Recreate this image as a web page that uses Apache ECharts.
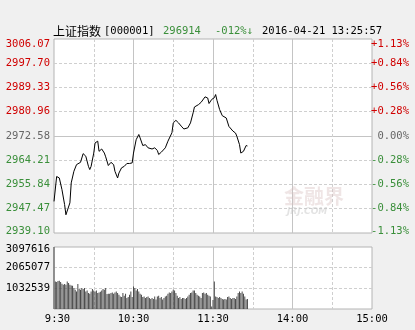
<!DOCTYPE html>
<html><head><meta charset="utf-8">
<script src="https://cdn.jsdelivr.net/npm/echarts@6/dist/echarts.min.js"></script>
<style>html,body{margin:0;padding:0;background:#f0f0f0}#c{width:415px;height:330px}</style>
</head><body><div id="c"></div><script>
// ---- data ----
const priceTimes = ["09:30","09:32","09:34","09:36","09:38","09:39","09:40","09:42","09:43","09:45","09:47","09:50","09:52","09:54","09:56","09:57","09:58",
"10:00","10:01","10:03","10:04","10:06","10:08","10:09","10:11","10:13","10:15","10:16","10:18","10:19","10:21","10:23","10:25","10:27","10:29",
"10:30","10:32","10:34","10:35","10:37","10:39","10:41","10:44","10:46","10:48","10:49","10:51","10:54","10:56","10:59",
"11:00","11:02","11:04","11:06","11:08","11:11","11:13","11:15","11:16","11:19","11:21","11:24","11:26","11:27","11:29","11:30",
"13:01","13:02","13:03","13:05","13:07","13:10","13:12","13:15","13:17","13:18","13:20","13:21","13:22","13:23","13:25","13:26"];
const prices = [2950.0,2958.6,2958.1,2954.1,2948.9,2945.4,2945.4,2949.5,2956.4,2960.4,2962.7,2963.5,2966.5,2965.6,2962.1,2961.0,2962.1,
2966.7,2970.2,2970.8,2967.3,2968.1,2966.7,2965.4,2962.4,2963.5,2962.7,2960.4,2958.1,2959.8,2961.6,2962.1,2963.1,2963.1,2963.3,
2966.7,2971.3,2973.1,2971.9,2969.3,2969.6,2968.5,2968.1,2968.5,2967.6,2966.2,2967.0,2968.5,2970.8,2973.7,
2977.1,2978.0,2977.1,2976.0,2975.0,2975.4,2977.1,2980.6,2982.6,2983.4,2984.2,2986.1,2985.7,2983.8,2985.2,2985.6,
2985.8,2986.9,2984.9,2981.7,2979.6,2978.8,2975.9,2974.3,2973.6,2972.5,2969.6,2966.7,2966.2,2967.3,2969.3,2969.14];
// volume per minute from 09:30 (one value per trading minute)
const volumes = [3097616,1380000,1350000,1400000,1410000,1350000,1260000,1210000,1250000,1210000,1380000,1300000,1210000,1180000,1160000,1050000,960000,880000,1250000,1000000,
960000,1050000,1000000,1050000,880000,930000,800000,760000,880000,1000000,930000,880000,930000,800000,830000,860000,930000,1000000,960000,1050000,
750000,760000,760000,800000,830000,760000,830000,880000,800000,710000,630000,600000,800000,660000,760000,550000,600000,710000,880000,600000,
1130000,1050000,930000,1000000,880000,760000,710000,600000,630000,550000,600000,630000,550000,500000,550000,500000,630000,470000,630000,660000,
550000,600000,470000,550000,630000,660000,760000,830000,800000,880000,960000,930000,800000,660000,550000,600000,500000,550000,550000,500000,
550000,630000,710000,800000,830000,930000,930000,800000,710000,660000,630000,550000,800000,830000,760000,800000,710000,660000,630000,130000,
450000,1380000,630000,600000,550000,600000,550000,500000,470000,500000,470000,600000,630000,550000,500000,550000,550000,500000,630000,800000,
880000,800000,880000,760000,630000,470000,500000];
const preClose = 2972.58;
const priceTickLabels = ["2939.10","2947.47","2955.84","2964.21","2972.58","2980.96","2989.33","2997.70","3006.07"];
const pctTickLabels = ["-1.13%","-0.84%","-0.56%","-0.28%","0.00%","+0.28%","+0.56%","+0.84%","+1.13%"];
const volTickLabels = ["","1032539","2065077","3097616"];
const timeTickLabels = ["9:30","10:30","11:30","14:00","15:00"];
const titleName = "上证指数";
const titleCode = "[000001]";
const lastPrice = "296914";
const lastChange = "-012%↓";
const stamp = "2016-04-21 13:25:57";

// ---- helpers ----
const pMin = 2939.10, pMax = 3006.07, pInt = (pMax - pMin) / 8;
const vMax = 3097616, vInt = vMax / 3;
function toIdx(t){const [h,m]=t.split(':').map(Number);const mm=h*60+m;return mm<=690?mm-570:mm-780+120;}
const MONO = '"DejaVu Sans Mono", monospace';
const RED = '#d00000', GREEN = '#3a8f3a', GRAY = '#666';
function colorFor(v){ if (Math.abs(v-preClose) < 0.01) return GRAY; return v > preClose ? RED : GREEN; }
const dashed = {show:true, showMinLine:false, showMaxLine:false, lineStyle:{color:'#cfcfcf', type:[3,2], width:1}};
const solid = {show:true, showMinLine:false, showMaxLine:false, lineStyle:{color:'#c4c4c4', type:'solid', width:1}};
const noAx = {axisLine:{show:false}, axisTick:{show:false}};
function edgeLabel(list, i, last){
  if (i === last) return '{top|' + list[i] + '}';
  if (i === 0) return '{bot|' + list[i] + '}';
  return list[i];
}
function richFor(colorFn){
  return {
    top:{padding:[11,0,0,0], fontFamily:MONO, fontSize:10.5, color:colorFn(pMax)},
    bot:{padding:[0,0,4,0], fontFamily:MONO, fontSize:10.5, color:colorFn(pMin)}
  };
}

const chart = echarts.init(document.getElementById('c'), null, {renderer:'canvas'});
chart.setOption({
  animation:false,
  backgroundColor:'#f0f0f0',
  grid:[
    {left:54, top:39, width:318, height:194, show:true, backgroundColor:'#fff', borderColor:'#b4b4b4', borderWidth:1},
    {left:54, top:247, width:318, height:62, show:true, backgroundColor:'#fff', borderColor:'#b4b4b4', borderWidth:1}
  ],
  xAxis:[
    Object.assign({gridIndex:0, type:'value', min:0, max:240, interval:30, axisLabel:{show:false}, splitLine:dashed}, noAx),
    Object.assign({gridIndex:0, type:'value', min:0, max:240, interval:60, axisLabel:{show:false}, splitLine:solid, position:'top'}, noAx),
    Object.assign({gridIndex:1, type:'value', min:0, max:240, interval:30, axisLabel:{show:false}, splitLine:dashed, position:'top'}, noAx),
    Object.assign({gridIndex:1, type:'value', min:0, max:240, interval:60, position:'bottom', splitLine:solid,
      axisLabel:{show:true, margin:5, color:'#000', fontFamily:MONO, fontSize:10.5,
        formatter:(v)=>{const i=Math.round(v/60);return i===0?'{a|'+timeTickLabels[i]+'}':timeTickLabels[i];},
        rich:{a:{padding:[0,0,0,7], fontFamily:MONO, fontSize:10.5, color:'#000'}}}}, noAx)
  ],
  yAxis:[
    Object.assign({gridIndex:0, type:'value', min:pMin, max:pMax, interval:pInt, position:'left', splitLine:dashed,
      axisLabel:{margin:4, fontFamily:MONO, fontSize:10.5,
        formatter:(v)=>edgeLabel(priceTickLabels, Math.round((v-pMin)/pInt), 8),
        color:(v)=>colorFor(v), rich:richFor(colorFor)}}, noAx),
    Object.assign({gridIndex:0, type:'value', min:pMin, max:pMax, interval:pInt, position:'right', splitLine:{show:false},
      axisLabel:{margin:37, align:'right', fontFamily:MONO, fontSize:10.5,
        formatter:(v)=>edgeLabel(pctTickLabels, Math.round((v-pMin)/pInt), 8),
        color:(v)=>colorFor(v), rich:richFor(colorFor)}}, noAx),
    Object.assign({gridIndex:0, type:'value', min:pMin, max:pMax, interval:pInt*4, position:'left', splitLine:solid, axisLabel:{show:false}}, noAx),
    Object.assign({gridIndex:1, type:'value', min:0, max:vMax, interval:vInt, position:'left', splitLine:dashed,
      axisLabel:{margin:4, fontFamily:MONO, fontSize:10.5, color:'#000',
        formatter:(v)=>{const i=Math.round(v/vInt);return i===3?'{top|'+volTickLabels[i]+'}':volTickLabels[i];},
        rich:{top:{padding:[4,0,0,0], fontFamily:MONO, fontSize:10.5, color:'#000'}}}}, noAx)
  ],
  series:[
    {type:'line', xAxisIndex:0, yAxisIndex:0, data:priceTimes.map((t,i)=>[toIdx(t), prices[i]]),
      showSymbol:false, symbol:'none', lineStyle:{color:'#000', width:1}, z:5},
    {type:'bar', xAxisIndex:2, yAxisIndex:3, data:volumes.map((v,i)=>[i, v]), barWidth:1,
      itemStyle:{color:'#4a4a4a'}, z:5}
  ],
  graphic:[
    {type:'text', left:53, top:25, style:{text:titleName, font:'12px "Noto Sans CJK SC"', fill:'#000'}},
    {type:'text', left:104, top:26, style:{text:titleCode, font:'10.5px '+MONO, fill:'#000'}},
    {type:'text', left:163, top:26, style:{text:lastPrice, font:'10.5px '+MONO, fill:GREEN}},
    {type:'text', left:215, top:26, style:{text:lastChange, font:'10.5px '+MONO, fill:GREEN}},
    {type:'text', left:262, top:26, style:{text:stamp, font:'10.5px '+MONO, fill:'#000'}},
    {type:'text', left:284, top:186, z:1, style:{text:'金融界', font:'bold 20px "Noto Sans CJK SC"', fill:'rgba(215,190,190,0.4)'}},
    {type:'text', left:287, top:207, z:1, style:{text:'JRJ.COM', font:'italic bold 9px "DejaVu Sans"', fill:'rgba(200,200,200,0.5)'}}
  ]
});
</script></body></html>
